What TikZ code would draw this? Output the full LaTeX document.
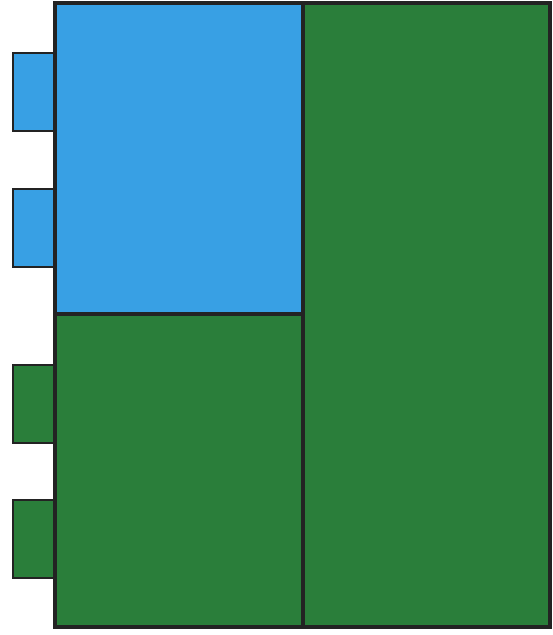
\documentclass[tikz,border=0pt]{standalone}
\usepackage{tikz}
\definecolor{paneblue}{RGB}{56,160,228}
\definecolor{panegreen}{RGB}{42,126,58}
\definecolor{edgedark}{RGB}{35,35,35}
\tikzset{
  tab/.style={draw=edgedark,line width=1.1pt},
  frame/.style={draw=edgedark,line width=2.2pt},
}
\begin{document}
\begin{tikzpicture}[x=0.02cm,y=-0.02cm]
  \useasboundingbox (0,0) rectangle (553,635);
  % Left: side tabs
  \draw[tab,fill=paneblue] (13,53) rectangle (55,131);
  \draw[tab,fill=paneblue] (13,189) rectangle (55,267);
  \draw[tab,fill=panegreen] (13,365) rectangle (55,443);
  \draw[tab,fill=panegreen] (13,500) rectangle (55,578);
  % Panes
  \fill[paneblue] (55,3) rectangle (303,314);
  \fill[panegreen] (55,314) rectangle (303,627);
  \fill[panegreen] (303,3) rectangle (550,627);
  % Frame and dividers
  \draw[frame] (55,3) rectangle (550,627);
  \draw[frame] (303,3) -- (303,627);
  \draw[frame] (55,314) -- (303,314);
\end{tikzpicture}
\end{document}
